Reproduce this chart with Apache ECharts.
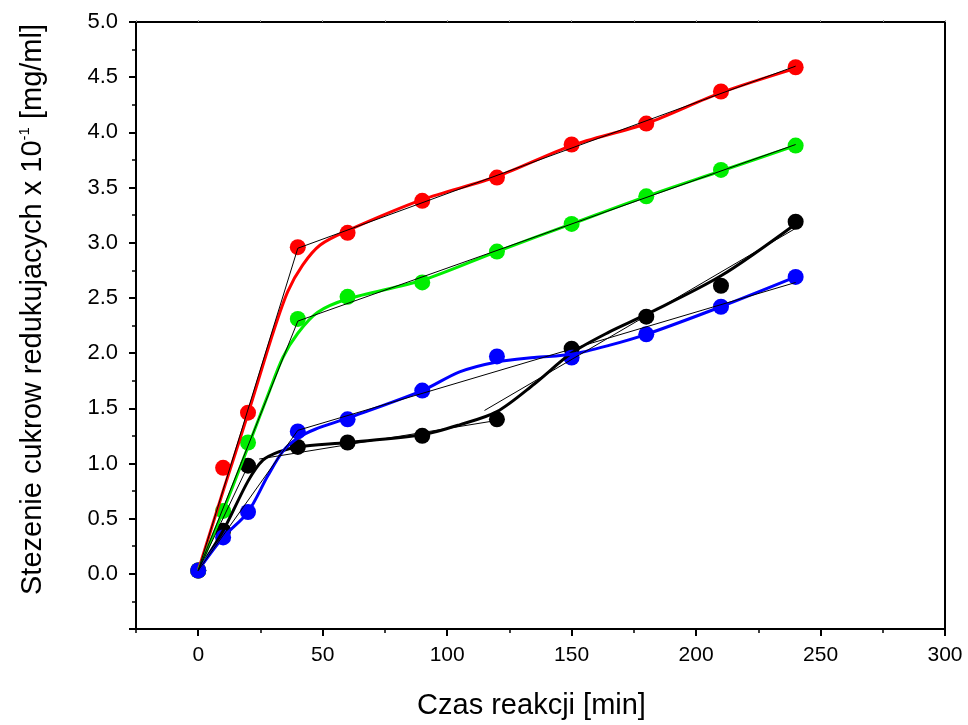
<!DOCTYPE html>
<html>
<head>
<meta charset="utf-8">
<script src="https://cdn.jsdelivr.net/npm/echarts@6/dist/echarts.min.js"></script>
<style>html,body{margin:0;padding:0;background:#fff}#c{width:968px;height:725px}</style>
</head>
<body>
<div id="c"></div>
<script>
// ---- data ----
const times = [0, 10, 20, 40, 60, 90, 120, 150, 180, 210, 240];
const redPts   = [0.03, 0.96, 1.46, 2.96, 3.09, 3.38, 3.59, 3.89, 4.08, 4.37, 4.59];
const greenPts = [0.03, 0.57, 1.19, 2.31, 2.51, 2.64, 2.92, 3.17, 3.42, 3.66, 3.88];
const blackPts = [0.03, 0.39, 0.98, 1.15, 1.19, 1.25, 1.40, 2.04, 2.33, 2.61, 3.19];
const bluePts  = [0.03, 0.33, 0.56, 1.29, 1.40, 1.66, 1.97, 1.96, 2.17, 2.42, 2.69];

// smooth curves (x, y)
const redCurve = [[0,0.03],[10,0.75],[20,1.45],[30,2.18],[36,2.56],[42,2.8],[49,2.98],[60,3.11],[90,3.39],[120,3.6],[150,3.88],[180,4.08],[210,4.36],[240,4.58]];
const greenCurve = [[0,0.03],[10,0.57],[20,1.15],[28,1.62],[34,1.96],[40,2.18],[48,2.37],[60,2.49],[90,2.66],[120,2.92],[150,3.17],[180,3.42],[210,3.65],[240,3.88]];
const blackCurve = [[0,0.03],[10,0.39],[20,0.84],[26,1.03],[33,1.11],[40,1.15],[60,1.19],[90,1.26],[105,1.35],[120,1.47],[135,1.72],[150,2.0],[165,2.19],[180,2.35],[210,2.7],[240,3.17]];
const blueCurve = [[0,0.03],[10,0.33],[20,0.56],[28,0.89],[34,1.11],[40,1.23],[47,1.31],[60,1.41],[90,1.66],[105,1.83],[120,1.92],[135,1.96],[150,1.99],[165,2.07],[180,2.17],[210,2.42],[240,2.69]];

// thin black linear fits (segments)
const redFit   = [[[0,0.03],[40,2.95]], [[40,2.95],[240,4.6]]];
const greenFit = [[[0,0.03],[40,2.29]], [[40,2.29],[240,3.89]]];
const blackFit = [[[0,0.03],[20,0.98]], [[24.5,1.04],[120,1.39]], [[115,1.48],[243,3.17]]];
const blueFit  = [[[0,0.03],[40,1.3]], [[40,1.3],[240,2.64]]];

const xMajor = [0, 50, 100, 150, 200, 250, 300];
const xMinor = [-25, 25, 75, 125, 175, 225, 275];
const xAll = [-25, 0, 25, 50, 75, 100, 125, 150, 175, 200, 225, 250, 275, 300];

const FONT = 'Liberation Sans, Arial, sans-serif';
const groups = [
  {pts: blackPts, curve: blackCurve, fit: blackFit, color: '#000000'},
  {pts: redPts, curve: redCurve, fit: redFit, color: '#ff0000'},
  {pts: greenPts, curve: greenCurve, fit: greenFit, color: '#00ee00'},
  {pts: bluePts, curve: blueCurve, fit: blueFit, color: '#0000ff'}
];

const series = [];
groups.forEach(g => {
  series.push({
    type: 'scatter', xAxisIndex: 0, yAxisIndex: 0,
    data: times.map((t, i) => [t, g.pts[i]]),
    symbol: 'circle', symbolSize: 16,
    itemStyle: {color: g.color, opacity: 1}, z: 2, silent: true
  });
});
groups.forEach(g => {
  series.push({
    type: 'line', xAxisIndex: 0, yAxisIndex: 0,
    data: g.curve, smooth: 0.3,
    showSymbol: false, symbol: 'none',
    lineStyle: {color: g.color, width: 3}, z: 3, silent: true
  });
});
groups.forEach(g => {
  g.fit.forEach(seg => {
    series.push({
      type: 'line', xAxisIndex: 0, yAxisIndex: 0,
      data: seg, showSymbol: false, symbol: 'none',
      lineStyle: {color: '#000', width: 1}, z: 4, silent: true
    });
  });
});

const chart = echarts.init(document.getElementById('c'), null, {renderer: 'canvas'});
chart.setOption({
  animation: false,
  backgroundColor: '#fff',
  grid: {left: 136, right: 23, top: 22, bottom: 94, show: true, borderColor: '#000', borderWidth: 2},
  xAxis: [
    {
      type: 'value', min: -25, max: 300, position: 'bottom',
      name: 'Czas reakcji [min]', nameLocation: 'middle', nameGap: 62,
      nameTextStyle: {fontFamily: FONT, fontSize: 29, color: '#000', padding: [0, 18, 0, 0]},
      axisLine: {show: true, onZero: false, lineStyle: {color: '#000', width: 2}},
      axisTick: {show: true, inside: false, length: 7, lineStyle: {color: '#000', width: 2}, customValues: xMajor},
      axisLabel: {show: true, customValues: xMajor, margin: 16, fontFamily: FONT, fontSize: 21, color: '#000'},
      splitLine: {show: false}
    },
    {
      type: 'value', min: -25, max: 300, position: 'bottom',
      axisLine: {show: false, onZero: false},
      axisTick: {show: true, inside: false, length: 4, lineStyle: {color: '#000', width: 1.5}, customValues: xMinor},
      axisLabel: {show: false}, splitLine: {show: false}
    },
    {
      type: 'value', min: -25, max: 300, position: 'top',
      axisLine: {show: false, onZero: false},
      axisTick: {show: true, inside: false, length: 2, lineStyle: {color: '#999', width: 1}, customValues: xAll},
      axisLabel: {show: false}, splitLine: {show: false}
    }
  ],
  yAxis: [
    {
      type: 'value', min: -0.5, max: 5.0, interval: 0.5, position: 'left',
      name: 'Stezenie cukrow redukujacych x 10{sup|-1} [mg/ml]',
      nameLocation: 'middle', nameGap: 88, nameRotate: 90,
      nameTextStyle: {fontFamily: FONT, fontSize: 29, color: '#000', padding: [0, 0, 0, 32],
        rich: {sup: {fontFamily: FONT, fontSize: 15, color: '#000', verticalAlign: 'top', padding: [0, 0, 16, 0]}}},
      axisLine: {show: true, onZero: false, lineStyle: {color: '#000', width: 2}},
      axisTick: {show: true, inside: false, length: 7, lineStyle: {color: '#000', width: 2}},
      minorTick: {show: true, splitNumber: 2, length: 4, lineStyle: {color: '#000', width: 1.5}},
      axisLabel: {show: true, margin: 18, fontFamily: FONT, fontSize: 22, color: '#000',
        formatter: v => v < 0 ? '' : v.toFixed(1)},
      splitLine: {show: false}, minorSplitLine: {show: false}
    }
  ],
  series: series
});
</script>
</body>
</html>
